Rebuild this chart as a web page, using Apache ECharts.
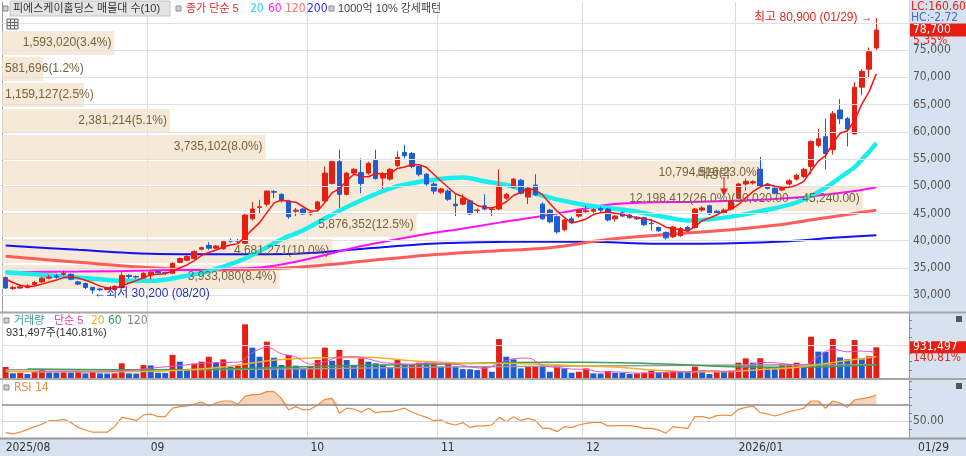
<!DOCTYPE html>
<html><head><meta charset="utf-8">
<script src="https://cdn.jsdelivr.net/npm/echarts@6/dist/echarts.min.js"></script>
<style>html,body{margin:0;padding:0;background:#fff}#c{width:966px;height:456px}</style>
</head><body><div id="c"></div>
<script>
// ---------- calendar ----------
const months = ['2025/08','2025/09','2025/10','2025/11','2025/12','2026/01'];
const monthTickLabels = ['2025/08','09','10','11','12','2026/01'];
const monthDayLists = [
  [1,4,5,6,7,8,11,12,13,14,18,19,20,21,22,25,26,27,28,29],
  [1,2,3,4,5,8,9,10,11,12,15,16,17,18,19,22,23,24,25,26,29,30],
  [1,2,10,13,14,15,16,17,20,21,22,23,24,27,28,29,30,31],
  [3,4,5,6,7,10,11,12,13,14,17,18,19,20,21,24,25,26,27,28],
  [1,2,3,4,5,8,9,10,11,12,15,16,17,18,19,22,23,24,26,29,30],
  [2,5,6,7,8,9,12,13,14,15,16,19,20,21,22,23,26,27,28,29]
];
const padSlots = ['pad1','pad2','pad3','pad4'];

// ---------- price (OHLC) ----------
const opens = [33200,31200,31300,31400,31900,32400,33100,33500,33800,33800,
32400,32100,31400,31100,31000,31000,31400,33600,33400,33100,
33700,34300,34100,34000,36000,36400,36700,38400,39100,38600,
38500,40000,40000,39500,44000,46100,46700,49000,48500,47300,
45400,45800,44900,45800,47300,50500,54500,48500,52400,52500,
52400,54700,51500,51300,53800,56200,56000,53600,52200,50400,
48900,49100,46700,46700,47300,45500,46400,45700,45800,47800,
49800,51100,48000,50200,46700,45600,44400,42000,44000,44500,
45300,45400,45900,45800,44000,45100,44700,44300,44200,43200,
42400,41500,40700,40900,42400,42400,45600,46400,45400,45000,
45800,47800,50400,50600,53100,50400,49600,49300,50400,51300,
51800,53600,57500,59100,56700,64000,62400,59600,68200,71500,75400];
const closes = [31300,31400,31500,31700,32300,33100,33300,33300,34000,32900,
32000,31400,30900,30950,31300,31600,33600,33400,33300,34000,
34200,34100,34000,35800,36700,37100,38000,38700,38600,39000,
39800,39900,39900,44700,45800,46200,49100,48900,47300,44400,
45600,44900,45100,47100,52400,54500,48500,52400,53100,50500,
54200,51400,52300,53100,55300,55600,53600,52200,50400,49100,
49500,47600,46400,47800,44900,45600,45800,45800,50000,48500,
51300,48700,49600,48400,44000,43450,41600,43800,43300,45600,
45500,45700,45600,43800,44500,44500,44200,44000,42900,43100,
41800,40500,42500,42200,41800,45800,46000,44900,45000,45600,
47300,50400,50900,50800,50000,49600,48700,49600,51000,52000,
53100,58200,58700,56000,63300,62400,60500,68200,71100,74700,78700];
const lows = [31100,30900,31100,31200,31700,32200,32900,33000,33500,32700,
31800,31100,30200,30700,30900,30900,31300,33000,33000,33000,
32800,33900,33700,33800,35800,36200,36500,38200,38300,38400,
38300,39600,39500,39400,43700,45000,46300,47800,47000,44000,
44500,44700,44600,45600,47100,50300,46000,48300,52200,48700,
52100,51200,49500,51000,53500,55100,53300,51800,50100,48500,
48600,47300,44500,46500,44700,44900,45600,44500,45600,47500,
49600,48500,46700,48200,43800,43200,41300,41700,43000,44200,
45100,45000,45200,43500,43500,44300,44000,43800,42700,41800,
41600,40200,40500,40700,41600,42200,45300,44700,44800,44800,
45600,47600,49200,50300,49800,49400,48500,49100,50100,51000,
51500,52200,57100,53100,55800,61400,57300,59500,66700,69800,74800];
const highs = [33400,31700,31800,32000,32600,33300,33700,33900,34500,34000,
32600,32300,31500,31300,31500,31800,34200,33800,33600,34200,
34400,34500,34300,36000,36900,37300,38200,38900,39700,39200,
40000,40400,40300,44900,47100,47500,49200,49300,48700,47500,
46000,46000,45400,47300,53600,54700,56700,52600,53300,55100,
54500,56700,52600,53300,56400,57600,56300,53800,52400,50700,
49700,49400,48500,48500,47500,45900,48500,46000,53100,48800,
51500,51300,49800,52200,47000,45800,44600,44000,44400,45800,
46400,46000,46200,46000,44700,45300,44900,44500,44400,44000,
42600,41700,42700,42500,42700,46000,46300,46600,45600,45900,
47500,50600,51400,51100,55400,50600,49800,49900,51300,52300,
53400,58400,60500,62400,63800,66000,62700,69100,71500,75500,80900];

// ---------- moving averages ----------
const ma5 = [32900,32300,31800,31500,31640,32000,32380,32740,33200,33320,
33100,32720,32240,31630,31310,31230,31670,32170,32640,33180,
33700,33800,33920,34420,34960,35540,36320,37260,37820,38280,
38820,39200,39440,40660,42020,43300,45140,46940,47460,47180,
47060,46220,45460,45420,47020,48800,49520,50980,52180,51800,
51740,52320,52300,52300,53260,53540,53980,53960,53420,52180,
50960,49760,48600,48080,47240,46460,46100,45980,46420,47140,
48280,48860,49620,49300,48400,46830,45410,44250,43230,43550,
43960,44780,45140,45240,45020,44820,44520,44200,44020,43740,
43200,42460,42160,42020,41760,42560,43660,44140,44700,45460,
45760,46640,47840,49000,49880,50340,50000,49740,49780,50180,
50880,52780,54600,55600,57860,59720,60180,62080,65100,67380,70640];
const ma20Pts = [[0,34200],[4,33800],[8,33400],[12,33000],[16,32600],[20,32600],[24,33300],[28,34400],[33,36700],[38,40200],[41,41900],[45,44800],[50,48000],[54,50000],[59,51200],[63,51600],[66,50900],[70,49900],[75,47900],[80,46500],[83,46000],[87,45300],[91,44300],[94,43700],[97,43900],[100,44400],[104,45400],[109,47000],[113,49700],[115,51600],[117,53500],[118,54900],[119,56300],[120,57900]];
const ma60Pts = [[0,34200],[10,34300],[20,34500],[30,34800],[36,35200],[42,36700],[48,38700],[53,40000],[58,41200],[62,42000],[68,43300],[74,44500],[79,45700],[83,46600],[88,47000],[94,47100],[100,47300],[104,47500],[110,48000],[114,48600],[117,49100],[120,49800]];
const ma120Pts = [[0,37100],[10,36000],[20,35000],[28,34600],[36,34800],[42,35300],[50,36300],[58,37300],[66,38000],[75,38700],[83,40200],[92,41200],[100,42000],[106,42800],[112,44000],[116,44800],[120,45600]];
const ma200Pts = [[0,39100],[10,38300],[20,37600],[30,37500],[40,37600],[50,38600],[60,39500],[70,39800],[80,39800],[90,39400],[100,39500],[108,39900],[114,40500],[120,41000]];

// ---------- volume ----------
const volumes = [333000,142000,160000,120000,190000,270000,170000,165000,175000,168000,
220000,140000,190000,140000,135000,142000,445000,140000,135000,390000,
380000,160000,155000,700000,495000,240000,435000,495000,645000,465000,
565000,345000,375000,1627000,920000,645000,1100000,615000,395000,700000,
375000,290000,345000,545000,920000,525000,850000,545000,395000,595000,
495000,445000,395000,310000,565000,395000,400000,465000,460000,470000,
345000,465000,345000,270000,265000,240000,345000,190000,1180000,645000,
565000,290000,345000,350000,340000,190000,375000,290000,160000,190000,
290000,140000,135000,210000,160000,155000,120000,140000,160000,220000,
160000,170000,220000,190000,185000,345000,190000,120000,220000,215000,
225000,465000,595000,465000,600000,325000,320000,410000,420000,465000,
345000,1250000,800000,795000,1180000,625000,565000,1150000,565000,661528,931497];
const volMa5Pts = [[4,189000],[8,194000],[12,179000],[16,210000],[20,298000],[24,378000],[28,462000],[32,479000],[34,766000],[36,933000],[38,735000],[40,637000],[42,421000],[44,495000],[46,637000],[48,647000],[50,576000],[52,465000],[54,442000],[56,413000],[58,457000],[60,428000],[62,417000],[64,338000],[66,293000],[68,444000],[70,585000],[72,605000],[74,378000],[76,320000],[78,271000],[80,261000],[82,183000],[84,187000],[86,156000],[88,147000],[90,160000],[92,186000],[94,185000],[96,226000],[98,212000],[100,194000],[102,344000],[104,470000],[106,461000],[108,415000],[110,392000],[112,656000],[114,874000],[116,793000],[118,817000],[120,775000]];
const volMa20Pts = [[0,200000],[10,190000],[19,199000],[25,244000],[30,330000],[35,488000],[39,573000],[45,616000],[50,630000],[55,540000],[59,489000],[65,436000],[70,438000],[75,408000],[79,369000],[84,332000],[89,241000],[94,193000],[99,187000],[104,258000],[108,303000],[111,378000],[115,501000],[120,647000]];
const volMa60Pts = [[3,270000],[15,250000],[25,255000],[35,300000],[45,360000],[59,420000],[70,466000],[79,477000],[90,430000],[99,349000],[110,328000],[120,399000]];
const volMa120Pts = [[0,250000],[30,260000],[60,330000],[90,380000],[120,405000]];

// ---------- RSI 14 ----------
const rsi14 = [35.4,33.8,36,39.6,42.9,46,50.4,50.4,52,48,
42,38.8,36,36,36,42.9,54.6,53,50.4,57.5,
58.8,55.4,55.4,66,68,68.8,71,73.8,68.8,72.5,
75,75,71,81,83,83.3,86.7,86.7,78.3,63.8,
68,63.8,64.6,70,77,78.3,59.6,66,65,61,
66,60.4,61.7,61.7,63.8,66,61,57.5,54.6,50.4,
51.3,47,45,48,42,43.8,43.8,45,54.6,49.2,
55.4,50.4,53.3,50.4,40.8,40.8,36.7,42.9,41.7,45,
47,48.3,48.3,43.8,44.2,44.2,44.2,42.9,40.8,40.8,
38.8,34.6,42.9,41.7,40.8,55.4,55.4,53.3,56.7,57.5,
56.7,64.6,67,68.8,60.4,58.8,56.3,58.8,61.7,63.8,
66,75,75,66,75,72.5,67,76.3,77.9,79.6,82.5];
const rsiSignal = 70;
const rsiMid = 50;

// ---------- price-volume profile (매물대, 10 bins) ----------
const profileLow  = [30900,35680,40460,45240,50020,54800,59580,64360,69140,73920];
const profileHigh = [35680,40460,45240,50020,54800,59580,64360,69140,73920,78700];
const profileVol  = [3933080,4681271,5876352,12198412,10794516,3735102,2381214,1159127,581696,1593020];
const profilePct  = [8.4,10.0,12.5,26.0,23.0,8.0,5.1,2.5,1.2,3.4];

// ---------- ticks ----------
const priceGrid = [30000,35000,40000,45000,50000,55000,60000,65000,70000,75000,80000];
const priceLabels = [30000,35000,40000,45000,50000,55000,60000,65000,70000,75000];
const volGrid = [1000000];
const volTicks = [250000,500000,750000,1000000,1250000,1500000,1750000];
const rsiLabels = [50];
const rsiTicks = [40,50,60,70,80,90,100];
const exDivIndex = 99;

// ---------- build ----------
const cats = [];
const monthStart = new Map();
months.forEach((m, k) => {
  monthStart.set(cats.length, monthTickLabels[k]);
  monthDayLists[k].forEach(d => cats.push(m + '/' + String(d).padStart(2, '0')));
});
padSlots.forEach(p => cats.push(p));
const isMonth = (i) => monthStart.has(i);

const UP = '#e61e14', DN = '#1c5cd4';
const NARROW = "'Liberation Sans Narrow','DejaVu Sans Condensed','Liberation Sans','Noto Sans CJK KR',sans-serif";
const KFONT = "'Liberation Sans Narrow','Liberation Sans','Noto Sans CJK KR',sans-serif";
const fmt = v => Math.round(v).toLocaleString('en-US');
const fmt2 = v => Number(v).toLocaleString('en-US', {minimumFractionDigits: 2, maximumFractionDigits: 2});
const N = closes.length;
const profileMax = Math.max(...profileVol);
const PROFILE_SPAN = 0.949;
const profileData = profileLow.map((lo, i) => [lo, profileHigh[i], profileVol[i], profilePct[i]]);

let hiIdx = 0, loIdx = 0;
highs.forEach((h, i) => { if (h > highs[hiIdx]) hiIdx = i; });
lows.forEach((l, i) => { if (l < lows[loIdx]) loIdx = i; });
const mmdd = i => cats[i].slice(5);

function profileRect(params, api) {
  const lo = api.value(0), hi = api.value(1), v = api.value(2);
  const a = api.coord([0, hi]);
  const b = api.coord([v / profileMax * PROFILE_SPAN, lo]);
  return {type: 'rect', shape: {x: a[0], y: a[1] + 1, width: b[0] - a[0], height: b[1] - a[1] - 2},
          style: {fill: 'rgba(244,228,206,0.82)'}};
}
function profileLabel(params, api) {
  const lo = api.value(0), hi = api.value(1), v = api.value(2), pct = api.value(3);
  const a = api.coord([0, hi]);
  const b = api.coord([v / profileMax * PROFILE_SPAN, lo]);
  let txt = fmt(v) + '(' + pct.toFixed(1) + '%)';
  if (v === profileMax) txt += '(' + fmt2(hi) + ' ~ ' + fmt2(lo) + ')';
  const w = txt.length * 6;
  const fits = w + 6 < (b[0] - a[0]);
  return {type: 'text', x: fits ? b[0] - 3 : a[0] + 3, y: (a[1] + b[1]) / 2,
          style: {text: txt, fill: '#76623e', font: "12px 'Liberation Sans', sans-serif",
                  align: fits ? 'right' : 'left', verticalAlign: 'middle'}};
}

const nullData = closes.map(() => null);
const xCat = (gi, showLabel) => ({
  type: 'category', gridIndex: gi, data: cats, boundaryGap: true,
  axisLine: {show: false}, axisTick: {show: false},
  axisLabel: showLabel ? {show: true, interval: (i) => isMonth(i), formatter: (v, i) => monthStart.get(i) || '',
    align: 'left', color: '#333', fontSize: 12, fontFamily: NARROW, margin: 5} : {show: false},
  splitLine: {show: true, interval: (i) => isMonth(i), lineStyle: {color: '#dadada', width: 1}}
});
const lineS = (name, data, color, width, xi, yi, z, smooth) => ({
  name, type: 'line', data, xAxisIndex: xi, yAxisIndex: yi, z, showSymbol: false, symbol: 'none',
  smooth: smooth ? 0.35 : false, silent: true, lineStyle: {color, width}, animation: false
});

const option = {
  animation: false,
  backgroundColor: '#ffffff',
  grid: [
    {left: 2, right: 57, top: 2, height: 310},
    {left: 2, right: 57, top: 313, height: 65},
    {left: 2, right: 57, top: 380, height: 57}
  ],
  xAxis: [xCat(0, false), xCat(1, false), xCat(2, true),
    {type: 'value', gridIndex: 0, min: 0, max: 1, show: false}],
  yAxis: [
    {type: 'value', gridIndex: 0, position: 'right', min: 26875, max: 83850,
     splitLine: {show: false}, axisLine: {show: true, lineStyle: {color: '#9a9a9a'}},
     axisTick: {show: true, customValues: priceGrid, length: 5, lineStyle: {color: '#888'}},
     axisLabel: {customValues: priceLabels, formatter: v => fmt(v), color: '#555', fontSize: 12, fontFamily: NARROW, margin: 4}},
    {type: 'value', gridIndex: 1, position: 'right', min: 0, max: 1970000,
     splitLine: {show: false}, axisLine: {show: true, lineStyle: {color: '#9a9a9a'}},
     axisTick: {show: true, customValues: volTicks, length: 3, lineStyle: {color: '#888'}},
     axisLabel: {show: false}},
    {type: 'value', gridIndex: 2, position: 'right', min: 30, max: 101.25,
     splitLine: {show: false}, axisLine: {show: true, lineStyle: {color: '#9a9a9a'}},
     axisTick: {show: true, customValues: rsiTicks, length: 3, lineStyle: {color: '#888'}},
     axisLabel: {customValues: rsiLabels, formatter: v => v.toFixed(2), color: '#555', fontSize: 12, fontFamily: NARROW, margin: 4}}
  ],
  series: [
    {type: 'line', data: nullData, xAxisIndex: 0, yAxisIndex: 0, z: 1, silent: true, symbol: 'none',
     markLine: {silent: true, symbol: 'none', label: {show: false}, animation: false,
       lineStyle: {color: '#e0e0e0', width: 1, type: 'solid'}, data: priceGrid.map(v => ({yAxis: v}))}},
    {type: 'custom', xAxisIndex: 3, yAxisIndex: 0, z: 2, silent: true, data: profileData, renderItem: profileRect},
    lineS('MA200', ma200Pts, '#1010ff', 2, 0, 0, 3, true),
    lineS('MA120', ma120Pts, '#ff5c5c', 3, 0, 0, 3, true),
    lineS('MA60', ma60Pts, '#ff10ff', 2, 0, 0, 3, true),
    lineS('MA20', ma20Pts, '#19eeee', 4.5, 0, 0, 3, true),
    {type: 'candlestick', xAxisIndex: 0, yAxisIndex: 0, z: 4, barWidth: '70%',
     data: opens.map((o, i) => [o, closes[i], lows[i], highs[i]]),
     itemStyle: {color: UP, color0: DN, borderColor: UP, borderColor0: DN, borderWidth: 1},
     markPoint: {
       symbol: 'circle', symbolSize: 1, itemStyle: {color: 'rgba(0,0,0,0)'}, animation: false,
       data: [
         {coord: [hiIdx, highs[hiIdx]],
          label: {show: true, position: 'left', distance: 3, formatter: '최고 ' + fmt(highs[hiIdx]) + ' (' + mmdd(hiIdx) + ') →',
                  color: '#e8251a', fontSize: 12, fontFamily: KFONT}},
         {coord: [loIdx, lows[loIdx]],
          label: {show: true, position: 'right', distance: 1, formatter: '←최저 ' + fmt(lows[loIdx]) + ' (' + mmdd(loIdx) + ')',
                  color: '#2236b8', fontSize: 12, fontFamily: KFONT}},
         {coord: [exDivIndex, highs[exDivIndex]], symbol: 'path://M3.4,0 H4.6 V12 H8 L4,20 L0,12 H3.4 Z',
          symbolSize: [8, 19], symbolOffset: [0, -22], itemStyle: {color: '#e8251a'},
          label: {show: true, position: 'top', offset: [-10, 9], formatter: '배당락', color: '#76623e', fontSize: 12, fontFamily: KFONT}}
       ]
     }},
    lineS('MA5', ma5, '#ff1010', 1.5, 0, 0, 5, false),
    {type: 'custom', xAxisIndex: 3, yAxisIndex: 0, z: 6, silent: true, data: profileData, renderItem: profileLabel},

    {type: 'line', data: nullData, xAxisIndex: 1, yAxisIndex: 1, z: 1, silent: true, symbol: 'none',
     markLine: {silent: true, symbol: 'none', label: {show: false}, animation: false,
       lineStyle: {color: '#e0e0e0', width: 1, type: 'solid'}, data: volGrid.map(v => ({yAxis: v}))}},
    {type: 'bar', xAxisIndex: 1, yAxisIndex: 1, z: 2, barWidth: '82%', silent: true,
     data: volumes.map((v, i) => ({value: v, itemStyle: {color: (i === 0 || v > volumes[i - 1]) ? UP : DN}}))},
    lineS('VMA120', volMa120Pts, '#9a9a9a', 1.5, 1, 1, 3, true),
    lineS('VMA60', volMa60Pts, '#3aa055', 1.5, 1, 1, 3, true),
    lineS('VMA20', volMa20Pts, '#f2b230', 1.5, 1, 1, 3, true),
    lineS('VMA5', volMa5Pts, '#e84fd8', 1, 1, 1, 3, true),

    {type: 'line', data: nullData, xAxisIndex: 2, yAxisIndex: 2, z: 1, silent: true, symbol: 'none',
     markLine: {silent: true, symbol: 'none', label: {show: false}, animation: false,
       data: [{yAxis: rsiMid, lineStyle: {color: '#d8d8d8', width: 1, type: 'solid'}},
              {yAxis: rsiSignal, lineStyle: {color: '#8a8a8a', width: 1.5, type: 'solid'}}]}},
    {type: 'line', stack: 'rsiFill', data: rsi14.map(() => rsiSignal), xAxisIndex: 2, yAxisIndex: 2, z: 2,
     symbol: 'none', silent: true, lineStyle: {opacity: 0}},
    {type: 'line', stack: 'rsiFill', data: rsi14.map(v => Math.max(0, v - rsiSignal)), xAxisIndex: 2, yAxisIndex: 2, z: 2,
     symbol: 'none', silent: true, lineStyle: {opacity: 0}, areaStyle: {color: 'rgba(240,140,80,0.55)'}},
    lineS('RSI', rsi14, '#f08a3c', 1.2, 2, 2, 3, false)
  ]
};

const chart = echarts.init(document.getElementById('c'));
chart.setOption(option);

const yLast = chart.convertToPixel({yAxisIndex: 0}, closes[N - 1]);
const yVol = chart.convertToPixel({yAxisIndex: 1}, volumes[N - 1]);
const chg = ((closes[N - 1] / closes[N - 2] - 1) * 100).toFixed(2) + '%';
const vchg = (volumes[N - 1] / volumes[N - 2] * 100).toFixed(2) + '%';

const T = (x, y, text, fill, extra) => Object.assign({type: 'text', x, y, z: 100, silent: true,
  style: {text, fill, font: '12px ' + NARROW, verticalAlign: 'middle', align: 'left'}}, extra || {});
const K = (x, y, text, fill) => ({type: 'text', x, y, z: 100, silent: true,
  style: {text, fill, font: '11px ' + KFONT, verticalAlign: 'middle', align: 'left'}});
const icon = (x, y) => ({type: 'rect', z: 100, silent: true, shape: {x, y, width: 5, height: 5},
  style: {fill: '#d0d0d0', stroke: '#8a8a8a', lineWidth: 1}});

const g = [
  {type: 'rect', z: -10, silent: true, shape: {x: 909, y: 0, width: 57, height: 456}, style: {fill: '#d7e2f0'}},
  {type: 'rect', z: -10, silent: true, shape: {x: 0, y: 439, width: 966, height: 17}, style: {fill: '#d7e2f0'}},
  {type: 'line', z: 50, silent: true, shape: {x1: 0, y1: 312.5, x2: 966, y2: 312.5}, style: {stroke: '#a6a6a6', lineWidth: 2}},
  {type: 'line', z: 50, silent: true, shape: {x1: 0, y1: 379, x2: 966, y2: 379}, style: {stroke: '#a6a6a6', lineWidth: 2}},
  {type: 'line', z: 50, silent: true, shape: {x1: 0, y1: 438.5, x2: 966, y2: 438.5}, style: {stroke: '#9a9a9a', lineWidth: 2}},
  // top legend
  icon(3, 6),
  {type: 'rect', z: 99, silent: true, shape: {x: 10, y: 1, width: 160, height: 15}, style: {fill: '#e4e4e4', stroke: '#c4c4c4', lineWidth: 1}},
  K(13, 9, '피에스케이홀딩스 매물대 수(10)', '#333'),
  icon(176, 6),
  K(186, 9, '종가 단순 5', '#ee2a2a'),
  T(250, 9, '20', '#1ee0e0'),
  T(268, 9, '60', '#ff20ff'),
  T(285, 9, '120', '#ff7070'),
  T(307, 9, '200', '#2828ff'),
  icon(329, 6),
  K(338, 9, '1000억 10% 강세패턴', '#444'),
  {type: 'rect', z: 100, silent: true, shape: {x: 7, y: 19, width: 11, height: 10}, style: {fill: '#eeeeee', stroke: '#666', lineWidth: 1}},
  {type: 'line', z: 101, silent: true, shape: {x1: 7, y1: 22.5, x2: 18, y2: 22.5}, style: {stroke: '#666', lineWidth: 1}},
  {type: 'line', z: 101, silent: true, shape: {x1: 7, y1: 25.5, x2: 18, y2: 25.5}, style: {stroke: '#666', lineWidth: 1}},
  {type: 'line', z: 101, silent: true, shape: {x1: 10.5, y1: 19, x2: 10.5, y2: 29}, style: {stroke: '#666', lineWidth: 1}},
  {type: 'line', z: 101, silent: true, shape: {x1: 14.5, y1: 19, x2: 14.5, y2: 29}, style: {stroke: '#666', lineWidth: 1}},
  // right price labels
  T(911, 7, 'LC:160.60', '#e8251a'),
  T(911, 18, 'HC:-2.72', '#3a6fd0'),
  {type: 'rect', z: 99, silent: true, shape: {x: 910, y: yLast - 6.5, width: 56, height: 13}, style: {fill: '#e61e14'}},
  T(913, yLast, fmt(closes[N - 1]), '#ffffff'),
  T(913, yLast + 11, chg, '#e8251a'),
  // volume legend
  icon(4, 318),
  K(14, 321, '거래량', '#3a9aa0'),
  K(54, 321, '단순 5', '#e040c0'),
  T(91, 321, '20', '#f0b020'),
  T(108, 321, '60', '#30a050'),
  T(127, 321, '120', '#888888'),
  K(6, 333, fmt(volumes[N - 1]) + '주(' + vchg + ')', '#333'),
  {type: 'rect', z: 99, silent: true, shape: {x: 910, y: yVol - 6, width: 56, height: 12}, style: {fill: '#e61e14'}},
  T(913, yVol, fmt(volumes[N - 1]), '#ffffff'),
  T(913, yVol + 11, vchg, '#e8251a'),
  {type: 'rect', z: 100, silent: true, shape: {x: 956, y: 316, width: 6, height: 6}, style: {fill: '#555'}},
  // rsi legend
  icon(4, 385),
  T(14, 388, 'RSI 14', '#f08a3c'),
  {type: 'rect', z: 100, silent: true, shape: {x: 956, y: 383, width: 6, height: 6}, style: {fill: '#555'}},
  // last date
  T(918, 448, mmdd(N - 1), '#333')
];
chart.setOption({graphic: {elements: g}});
</script>
</body></html>
